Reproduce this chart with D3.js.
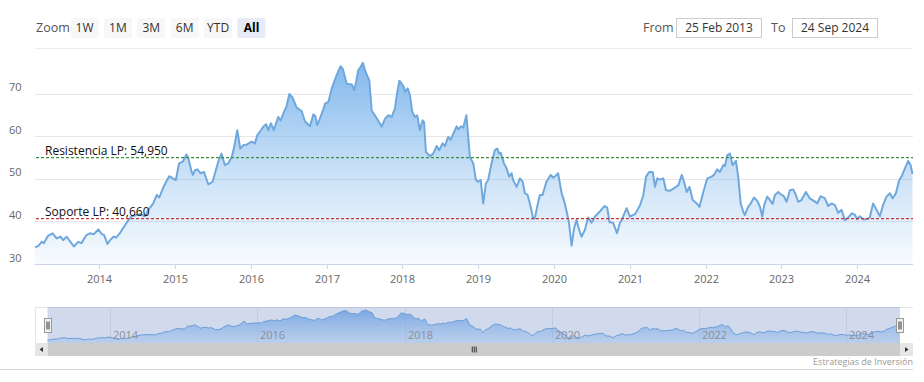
<!DOCTYPE html>
<html>
<head>
<meta charset="utf-8">
<script src="https://cdn.jsdelivr.net/npm/d3@7"></script>
<style>
  html, body { margin: 0; padding: 0; background: #fff; }
  svg { display: block; font-family: "Open Sans", "DejaVu Sans", sans-serif; }
</style>
</head>
<body>
<svg id="chart" width="924" height="382"></svg>
<script>
// ---------- DATA ----------
const dates = [
"2013-02-25","2013-03-12","2013-03-29","2013-04-09","2013-04-29","2013-05-21","2013-06-09","2013-06-28","2013-07-11","2013-07-27",
"2013-08-15","2013-08-31","2013-09-21","2013-10-07","2013-10-31","2013-11-16","2013-12-06","2013-12-27",
"2014-01-13","2014-01-24","2014-02-09","2014-02-22","2014-03-10","2014-03-23","2014-04-11","2014-05-05","2014-05-21","2014-06-06",
"2014-06-27","2014-07-16","2014-08-09","2014-08-25","2014-09-18","2014-10-05","2014-10-17","2014-11-03","2014-11-19","2014-12-04","2014-12-21",
"2015-01-05","2015-01-20","2015-02-07","2015-02-25","2015-03-06","2015-03-22","2015-03-28","2015-04-07","2015-04-18","2015-05-04",
"2015-05-20","2015-06-10","2015-06-18","2015-07-01","2015-07-28","2015-08-13","2015-08-29","2015-09-14","2015-10-01","2015-10-12",
"2015-10-28","2015-11-11","2015-11-26","2015-12-12",
"2016-01-05","2016-01-21","2016-02-01","2016-02-16","2016-03-01","2016-03-15","2016-03-25","2016-04-07","2016-04-21","2016-05-12",
"2016-05-24","2016-06-09","2016-06-21","2016-07-05","2016-07-21","2016-08-09","2016-09-02","2016-09-18","2016-10-12","2016-10-29",
"2016-11-07","2016-11-16","2016-11-29","2016-12-14","2016-12-25",
"2017-01-09","2017-01-25","2017-02-05","2017-02-18","2017-02-28","2017-03-09","2017-03-18","2017-03-25","2017-04-07","2017-04-19",
"2017-05-02","2017-05-14","2017-05-22","2017-06-02","2017-06-13","2017-06-24","2017-07-02","2017-07-13","2017-07-25","2017-08-06",
"2017-08-22","2017-09-08","2017-09-23","2017-10-09","2017-10-25","2017-11-10","2017-11-26","2017-12-06","2017-12-17","2017-12-28",
"2018-01-06","2018-01-13","2018-01-26","2018-02-06","2018-02-17","2018-03-02","2018-03-13","2018-03-26","2018-04-08","2018-04-15",
"2018-04-24","2018-05-13","2018-05-29","2018-06-15","2018-06-27","2018-07-13","2018-07-25","2018-08-09","2018-08-21","2018-09-03",
"2018-09-19","2018-09-27","2018-10-10","2018-10-21","2018-11-05","2018-11-22","2018-12-08","2018-12-21",
"2019-01-01","2019-01-13","2019-01-25","2019-02-07","2019-02-18","2019-03-06","2019-03-22","2019-04-03","2019-04-12","2019-04-20",
"2019-05-05","2019-05-18","2019-05-30","2019-06-11","2019-06-18","2019-07-05","2019-07-21","2019-08-03","2019-08-14","2019-08-27",
"2019-09-07","2019-09-23","2019-10-01","2019-10-12","2019-10-25","2019-11-07","2019-11-26","2019-12-16","2019-12-27",
"2020-01-05","2020-01-21","2020-02-07","2020-02-18","2020-03-02","2020-03-13","2020-03-26","2020-04-07","2020-04-19","2020-04-27",
"2020-05-13","2020-05-29","2020-06-14","2020-06-30","2020-07-16","2020-08-09","2020-08-31","2020-09-14","2020-09-25","2020-10-12",
"2020-10-31","2020-11-13","2020-11-26","2020-12-16",
"2021-01-01","2021-01-26","2021-02-19","2021-03-07","2021-03-20","2021-04-04","2021-04-21","2021-05-02","2021-05-13","2021-05-26",
"2021-06-11","2021-06-24","2021-07-14","2021-07-30","2021-08-23","2021-09-08","2021-09-19","2021-10-02","2021-10-15","2021-10-31",
"2021-11-19","2021-12-02","2021-12-21",
"2022-01-09","2022-01-30","2022-02-10","2022-02-26","2022-03-11","2022-03-27","2022-04-04","2022-04-15","2022-04-28","2022-05-11",
"2022-05-27","2022-06-07","2022-06-19","2022-07-01","2022-07-09","2022-07-25","2022-08-06","2022-08-22","2022-09-07","2022-09-20",
"2022-10-01","2022-10-10","2022-10-25","2022-11-07","2022-11-20","2022-12-01","2022-12-17",
"2023-01-02","2023-01-13","2023-01-26","2023-02-11","2023-02-27","2023-03-12","2023-03-23","2023-04-08","2023-04-29","2023-05-18",
"2023-06-07","2023-06-23","2023-07-09","2023-07-30","2023-08-15","2023-08-31","2023-09-16","2023-10-02","2023-10-18","2023-11-03",
"2023-11-19","2023-12-06","2023-12-22",
"2024-01-01","2024-01-14","2024-01-30","2024-02-15","2024-03-02","2024-03-18","2024-04-04","2024-04-20","2024-05-05","2024-05-22",
"2024-06-07","2024-06-20","2024-07-06","2024-07-22","2024-08-02","2024-08-18","2024-09-03","2024-09-15","2024-09-24"
];
const values = [
33.9,34.2,35.2,34.9,36.6,37.2,36.0,36.4,35.6,36.4,
35.2,34.1,35.2,34.9,36.8,37.2,37.0,38.1,
37.0,36.8,34.7,35.6,36.4,36.2,37.3,39.1,40.3,41.2,
41.5,41.7,41.2,42.7,44.2,46.2,45.6,47.7,49.3,50.6,50.1,
49.7,53.6,54.0,55.7,54.8,51.6,50.9,52.0,52.2,51.3,
51.6,48.7,48.9,49.3,54.0,55.9,53.2,53.6,55.1,57.2,
61.4,57.1,57.9,58.0,
58.7,58.3,60.2,61.2,62.2,62.8,61.4,63.0,61.4,64.5,
63.7,65.7,67.0,69.9,69.0,66.7,65.9,63.5,62.3,65.1,
64.7,62.6,64.1,66.1,67.7,
68.0,71.2,72.6,74.3,75.5,76.4,75.9,74.8,72.3,72.2,
72.1,70.8,72.6,75.5,76.2,77.2,75.9,74.4,73.1,65.9,
64.8,63.5,62.2,64.1,64.9,64.5,66.5,70.1,73.0,72.3,
71.7,70.4,71.2,69.6,65.7,64.5,64.9,61.4,63.7,63.3,
56.3,55.3,55.9,57.7,56.7,58.3,57.7,59.8,59.1,60.6,
62.3,61.6,62.3,62.0,64.9,55.1,53.6,49.7,
49.3,49.7,44.2,48.9,49.7,53.6,56.7,57.1,55.9,56.1,
53.6,52.4,50.5,51.3,49.7,48.1,50.1,49.3,46.6,46.2,
44.2,40.7,40.7,43.4,46.2,46.2,49.3,50.9,50.3,
50.5,51.3,46.6,45.0,42.4,39.8,34.3,38.4,40.4,38.7,
36.4,38.0,40.9,39.7,41.1,42.3,43.6,43.2,39.8,39.7,
37.2,39.5,40.7,43.1,
41.1,41.7,43.8,46.2,50.5,51.6,51.6,48.1,50.1,49.8,
50.1,47.3,47.2,47.7,48.5,50.9,49.3,46.9,48.1,45.0,
44.2,43.4,46.9,
50.1,50.5,50.9,52.2,51.6,53.2,53.0,55.5,55.9,53.2,
54.2,50.5,44.2,42.3,41.5,43.4,44.2,45.6,44.8,43.4,
41.1,43.8,45.8,45.0,44.1,46.2,46.9,
46.2,45.9,44.6,47.3,47.5,46.2,44.6,45.0,46.9,45.4,
44.8,44.2,45.9,45.4,43.6,44.2,43.8,42.0,42.7,40.3,
40.9,41.9,41.5,
40.5,41.2,40.5,40.5,40.9,44.2,42.7,41.2,43.8,45.8,
46.6,45.4,46.6,49.7,50.5,52.4,54.2,53.2,51.1
];
const yTicks = [30, 40, 50, 60, 70];
const xTickYears = [2014, 2015, 2016, 2017, 2018, 2019, 2020, 2021, 2022, 2023, 2024];
const navTickYears = [2014, 2016, 2018, 2020, 2022, 2024];
const rangeButtons = ["1W", "1M", "3M", "6M", "YTD", "All"];
const selectedButton = "All";
const fromLabel = "25 Feb 2013";
const toLabel = "24 Sep 2024";
const levels = [
  { name: "Resistencia LP: 54,950", value: 54.95, color: "#3f8f3f" },
  { name: "Soporte LP: 40,660", value: 40.66, color: "#c8363a" }
];
const credit = "Estrategias de Inversión";

// ---------- BUILD ----------
const parse = d3.timeParse("%Y-%m-%d");
const data = dates.map((d, i) => ({ date: parse(d), v: values[i] }));
const startDate = parse("2013-02-25"), endDate = parse("2024-09-24");

const svg = d3.select("#chart");
const defs = svg.append("defs");

// Plot geometry
const plotLeft = 35, plotRight = 912.5, plotTop = 48, plotBottom = 264;
const x = d3.scaleTime().domain([startDate, endDate]).range([plotLeft, plotRight]);
const y = d3.scaleLinear().domain([30, 70]).range([plotBottom, 93.5]);

// Range selector
const topG = svg.append("g");
topG.append("text").attr("x", 36).attr("y", 32).attr("font-size", 12.5).attr("fill", "#555").text("Zoom");
rangeButtons.forEach((b, i) => {
  const bx = 70.5 + i * 33.4;
  const sel = b === selectedButton;
  topG.append("rect").attr("x", bx).attr("y", 18).attr("width", 28).attr("height", 20).attr("rx", 2)
    .attr("fill", sel ? "#e6ebf5" : "#f7f7f7");
  topG.append("text").attr("x", bx + 14).attr("y", 32).attr("text-anchor", "middle")
    .attr("font-size", 12).attr("font-weight", sel ? "bold" : "normal").attr("fill", sel ? "#000" : "#333").text(b);
});
topG.append("text").attr("x", 643).attr("y", 32).attr("font-size", 12.5).attr("fill", "#555").text("From");
topG.append("rect").attr("x", 676.5).attr("y", 18.5).attr("width", 85).attr("height", 19).attr("fill", "#fff").attr("stroke", "#ccc");
topG.append("text").attr("x", 719).attr("y", 32).attr("text-anchor", "middle").attr("font-size", 12).attr("fill", "#333").text(fromLabel);
topG.append("text").attr("x", 771).attr("y", 32).attr("font-size", 12.5).attr("fill", "#555").text("To");
topG.append("rect").attr("x", 792.5).attr("y", 18.5).attr("width", 85).attr("height", 19).attr("fill", "#fff").attr("stroke", "#ccc");
topG.append("text").attr("x", 835).attr("y", 32).attr("text-anchor", "middle").attr("font-size", 12).attr("fill", "#333").text(toLabel);

// Top line
svg.append("line").attr("x1", plotLeft).attr("x2", 913).attr("y1", plotTop + 0.5).attr("y2", plotTop + 0.5)
  .attr("stroke", "#ececec");

// Gridlines + y labels
const grid = svg.append("g");
yTicks.forEach(t => {
  if (t === 30) return;
  grid.append("line").attr("x1", plotLeft).attr("x2", 913).attr("y1", Math.round(y(t)) + 0.5).attr("y2", Math.round(y(t)) + 0.5)
    .attr("stroke", "#e6e6e6");
});
yTicks.forEach(t => {
  grid.append("text").attr("x", 9).attr("y", y(t) - 2.5).attr("font-size", 11).attr("fill", "#666").text(t);
});

// Area gradient
const grad = defs.append("linearGradient").attr("id", "areaGrad").attr("gradientUnits", "userSpaceOnUse")
  .attr("x1", 0).attr("y1", 62).attr("x2", 0).attr("y2", plotBottom);
grad.append("stop").attr("offset", 0).attr("stop-color", "#7cb5ec").attr("stop-opacity", 0.95);
grad.append("stop").attr("offset", 0.55).attr("stop-color", "#7cb5ec").attr("stop-opacity", 0.4);
grad.append("stop").attr("offset", 1).attr("stop-color", "#7cb5ec").attr("stop-opacity", 0.06);

const area = d3.area().x(d => x(d.date)).y0(plotBottom).y1(d => y(d.v));
const line = d3.line().x(d => x(d.date)).y(d => y(d.v));
svg.append("path").datum(data).attr("d", area).attr("fill", "url(#areaGrad)");
svg.append("path").datum(data).attr("d", line).attr("fill", "none").attr("stroke", "#6fa8dc").attr("stroke-width", 2)
  .attr("stroke-linejoin", "round");

// Level lines
levels.forEach(l => {
  svg.append("line").attr("x1", plotLeft + 1).attr("x2", 913).attr("y1", y(l.value)).attr("y2", y(l.value))
    .attr("stroke", l.color).attr("stroke-width", 1.2).attr("stroke-dasharray", "3,2");
  svg.append("text").attr("x", 45).attr("y", y(l.value) - 3).attr("font-size", 12).attr("fill", "#111").text(l.name);
});

// X axis
svg.append("line").attr("x1", plotLeft).attr("x2", 913).attr("y1", plotBottom + 0.5).attr("y2", plotBottom + 0.5)
  .attr("stroke", "#ccd6eb");
const xAxisG = svg.append("g");
xTickYears.forEach(yr => {
  const tx = Math.round(x(new Date(yr, 0, 1))) + 0.5;
  xAxisG.append("line").attr("x1", tx).attr("x2", tx).attr("y1", plotBottom).attr("y2", plotBottom + 5).attr("stroke", "#ccd6eb");
  xAxisG.append("text").attr("x", tx).attr("y", 283).attr("text-anchor", "middle").attr("font-size", 11).attr("fill", "#666").text(yr);
});

// ---------- NAVIGATOR ----------
const navTop = 307, navBottom = 343, navLeft = 47.5, navRight = 900;
const nx = d3.scaleTime().domain([startDate, endDate]).range([navLeft, navRight]);
const ny = d3.scaleLinear().domain([d3.min(values), d3.max(values)]).range([340, 310]);

// outline left part
svg.append("rect").attr("x", 35).attr("y", navTop).attr("width", 878).attr("height", navBottom - navTop).attr("fill", "#fff");
svg.append("line").attr("x1", 35).attr("x2", 913).attr("y1", navTop + 0.5).attr("y2", navTop + 0.5).attr("stroke", "#e3e6ec");
svg.append("line").attr("x1", 35.5).attr("x2", 35.5).attr("y1", navTop).attr("y2", navBottom).attr("stroke", "#e3e6ec");

// mask (selected range = all)
svg.append("rect").attr("x", navLeft).attr("y", navTop).attr("width", navRight - navLeft).attr("height", navBottom - navTop)
  .attr("fill", "rgba(102,133,194,0.3)");

// nav gridlines
navTickYears.forEach(yr => {
  const tx = Math.round(nx(new Date(yr, 0, 1))) + 0.5;
  svg.append("line").attr("x1", tx).attr("x2", tx).attr("y1", navTop).attr("y2", navBottom).attr("stroke", "#c2cbe0");
});

const navGrad = defs.append("linearGradient").attr("id", "navGrad").attr("gradientUnits", "userSpaceOnUse")
  .attr("x1", 0).attr("y1", 310).attr("x2", 0).attr("y2", navBottom);
navGrad.append("stop").attr("offset", 0).attr("stop-color", "#6b9ee0").attr("stop-opacity", 0.85);
navGrad.append("stop").attr("offset", 1).attr("stop-color", "#8fb8ea").attr("stop-opacity", 0.35);
const navArea = d3.area().x(d => nx(d.date)).y0(navBottom).y1(d => ny(d.v));
const navLine = d3.line().x(d => nx(d.date)).y(d => ny(d.v));
svg.append("path").datum(data).attr("d", navArea).attr("fill", "url(#navGrad)");
svg.append("path").datum(data).attr("d", navLine).attr("fill", "none").attr("stroke", "#6a9ed8").attr("stroke-width", 1);

navTickYears.forEach(yr => {
  const tx = Math.round(nx(new Date(yr, 0, 1)));
  svg.append("text").attr("x", tx + 3).attr("y", 339).attr("font-size", 11).attr("fill", "#8a8f99").text(yr);
});

// handles
[navLeft, navRight].forEach(hx => {
  const g = svg.append("g").attr("transform", `translate(${Math.round(hx) - 3.5},318.5)`);
  g.append("rect").attr("width", 7).attr("height", 14).attr("fill", "#f2f2f2").attr("stroke", "#999");
  g.append("line").attr("x1", 2.5).attr("x2", 2.5).attr("y1", 3).attr("y2", 11).attr("stroke", "#333");
  g.append("line").attr("x1", 4.5).attr("x2", 4.5).attr("y1", 3).attr("y2", 11).attr("stroke", "#333");
});

// scrollbar
const sbY = 343, sbH = 13;
svg.append("rect").attr("x", 35).attr("y", sbY).attr("width", 878).attr("height", sbH).attr("fill", "#f2f2f2");
svg.append("rect").attr("x", navLeft).attr("y", sbY).attr("width", navRight - navLeft).attr("height", sbH).attr("fill", "#cccccc");
svg.append("rect").attr("x", 35).attr("y", sbY).attr("width", 12.5).attr("height", sbH).attr("fill", "#e6e6e6");
svg.append("rect").attr("x", navRight).attr("y", sbY).attr("width", 13).attr("height", sbH).attr("fill", "#e6e6e6");
svg.append("path").attr("d", `M43,${sbY + 4} L39.5,${sbY + 6.5} L43,${sbY + 9} Z`).attr("fill", "#333");
svg.append("path").attr("d", `M905,${sbY + 4} L908.5,${sbY + 6.5} L905,${sbY + 9} Z`).attr("fill", "#333");
const gripX = (navLeft + navRight) / 2;
[-2, 0, 2].forEach(o => {
  svg.append("line").attr("x1", gripX + o + 0.5).attr("x2", gripX + o + 0.5).attr("y1", sbY + 3.5).attr("y2", sbY + 9.5)
    .attr("stroke", "#333");
});

// credit & bottom line
svg.append("text").attr("x", 913).attr("y", 365).attr("text-anchor", "end").attr("font-size", 9).attr("fill", "#999").text(credit);
svg.append("line").attr("x1", 0).attr("x2", 913).attr("y1", 369.5).attr("y2", 369.5).attr("stroke", "#d4d8e2");
</script>
</body>
</html>
